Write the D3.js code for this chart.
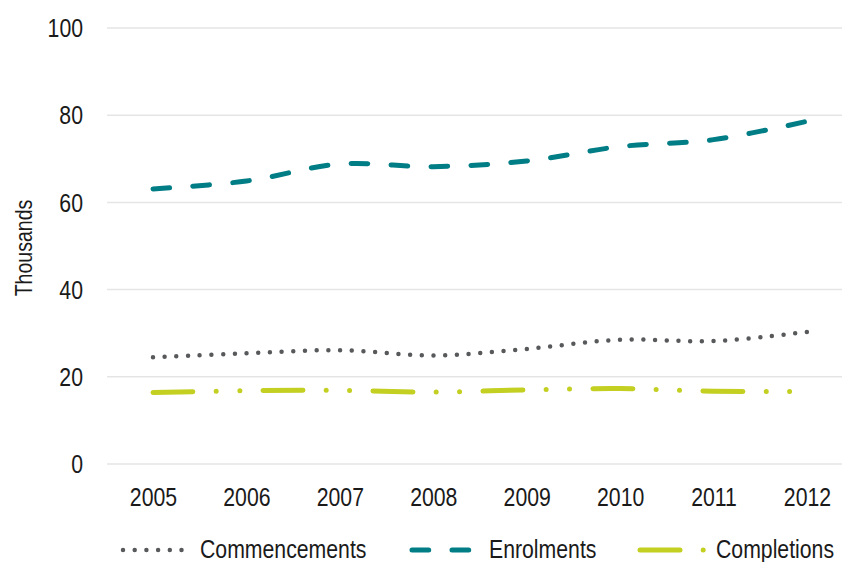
<!DOCTYPE html>
<html>
<head>
<meta charset="utf-8">
<script src="https://cdn.jsdelivr.net/npm/d3@7"></script>
<style>
  body { margin: 0; background: #fff; }
  svg { display: block; font-family: "Liberation Sans", Arial, sans-serif; }
</style>
</head>
<body>
<svg id="chart" width="842" height="562"></svg>
<script>
const years = ["2005", "2006", "2007", "2008", "2009", "2010", "2011", "2012"];
const commencements = [24.5, 25.4, 26.1, 24.9, 26.4, 28.5, 28.2, 30.3];
const enrolments = [63.1, 64.9, 68.8, 68.2, 69.5, 72.8, 74.4, 78.6];
const completions = [16.4, 16.8, 16.9, 16.5, 17.0, 17.3, 16.7, 16.6];
const yTicks = [0, 20, 40, 60, 80, 100];

const series = [
  { name: "Commencements", values: commencements, color: "#58595b", width: 4.5, dash: "0,11.7", legendX: 123, legendLen: 60, textX: 200 },
  { name: "Enrolments", values: enrolments, color: "#007d85", width: 5, dash: "16.7,23.3", legendX: 412, legendLen: 57, textX: 489 },
  { name: "Completions", values: completions, color: "#c3cf21", width: 5, dash: "40,23.2,0,23.4,0,23.4", legendX: 640, legendLen: 64, textX: 716 }
];

// the reference uses a condensed face, so squeeze the text horizontally
const squeeze = "scale(0.85,1)";

const svg = d3.select("#chart");

const x = d3.scalePoint()
  .domain(years)
  .range([153, 807]);

const y = d3.scaleLinear()
  .domain([0, 100])
  .range([464, 28]);

// gridlines
svg.append("g")
  .selectAll("line")
  .data(yTicks)
  .enter()
  .append("line")
  .attr("x1", 107)
  .attr("x2", 842)
  .attr("y1", d => y(d))
  .attr("y2", d => y(d))
  .attr("stroke", "#e5e5e5")
  .attr("stroke-width", 1.5);

// y axis labels
const yAxis = svg.append("g")
  .attr("transform", "translate(83,0)")
  .call(d3.axisLeft(y).tickValues(yTicks).tickSize(0).tickPadding(0));
yAxis.select(".domain").remove();
yAxis.selectAll("text")
  .attr("fill", "#1a1a1a")
  .attr("transform", squeeze)
  .style("font-size", "25px")
  .style("font-family", "Liberation Sans, Arial, sans-serif")
  .attr("dy", "0.35em");

// x axis labels
const xAxis = svg.append("g")
  .attr("transform", "translate(0,488)")
  .call(d3.axisBottom(x).tickSize(0).tickPadding(0));
xAxis.select(".domain").remove();
xAxis.selectAll("text")
  .attr("fill", "#1a1a1a")
  .attr("transform", squeeze)
  .style("font-size", "25px")
  .style("font-family", "Liberation Sans, Arial, sans-serif")
  .attr("dy", "0.72em");

// y title
svg.append("text")
  .attr("transform", "translate(32,248) rotate(-90) " + squeeze)
  .attr("text-anchor", "middle")
  .attr("fill", "#1a1a1a")
  .style("font-size", "23px")
  .text("Thousands");

const line = d3.line()
  .x((d, i) => x(years[i]))
  .y(d => y(d))
  .curve(d3.curveCardinal);

svg.append("g")
  .selectAll("path")
  .data(series)
  .enter()
  .append("path")
  .attr("d", d => line(d.values))
  .attr("fill", "none")
  .attr("stroke", d => d.color)
  .attr("stroke-width", d => d.width)
  .attr("stroke-linecap", "round")
  .attr("stroke-dasharray", d => d.dash);

// legend
const legend = svg.append("g");
series.forEach(s => {
  legend.append("line")
    .attr("x1", s.legendX)
    .attr("x2", s.legendX + s.legendLen)
    .attr("y1", 550)
    .attr("y2", 550)
    .attr("stroke", s.color)
    .attr("stroke-width", s.width)
    .attr("stroke-linecap", "round")
    .attr("stroke-dasharray", s.dash);
  legend.append("text")
    .attr("transform", `translate(${s.textX},558) ${squeeze}`)
    .attr("fill", "#1a1a1a")
    .style("font-size", "25px")
    .text(s.name);
});
</script>
</body>
</html>
